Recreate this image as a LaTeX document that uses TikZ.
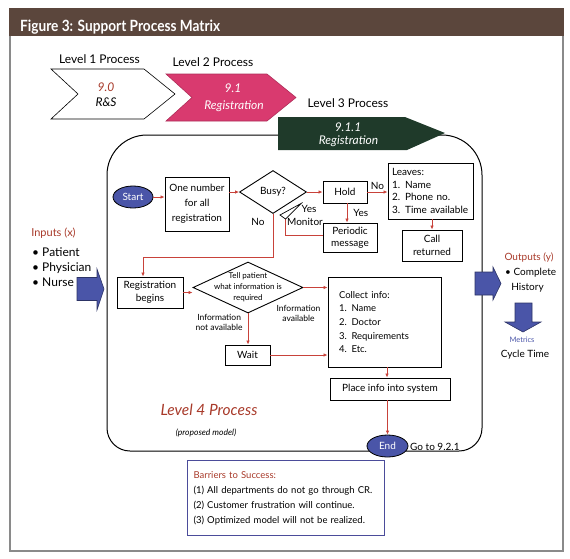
\documentclass[tikz,border=0pt]{standalone}
\usepackage{graphicx}
\usepackage{fontspec}
\setmainfont{Lato}
\usetikzlibrary{shapes.geometric,positioning,calc,arrows.meta}

\definecolor{hdrbrown}{HTML}{5B463C}
\definecolor{lvlpink}{HTML}{D93A6F}
\definecolor{lvlgreen}{HTML}{1F3A2A}
\definecolor{flowblue}{HTML}{4A55A8}
\definecolor{flowred}{HTML}{C8423A}
\definecolor{txtred}{HTML}{A83A2A}
\definecolor{framegray}{HTML}{8A8A8A}
\definecolor{barblue}{HTML}{4B4C9A}

\tikzset{
  box/.style={draw, line width=0.9pt, fill=white, align=center, inner sep=1pt,
    font=\fontsize{10}{14}\selectfont},
  decision/.style={diamond, draw, line width=0.9pt, fill=white, align=center, inner sep=0pt},
  terminal/.style={ellipse, draw=black, line width=0.8pt, fill=flowblue, text=white,
    inner sep=0pt, font=\fontsize{10}{12}\selectfont},
  flow/.style={draw=flowred, line width=0.8pt, -{Latex[length=4pt,width=3.5pt]}},
  lbl/.style={font=\fontsize{10}{12}\selectfont, inner sep=0pt},
  small/.style={font=\fontsize{8.5}{10}\selectfont, inner sep=0pt, align=center},
  lvl/.style={font=\fontsize{12}{14}\selectfont, inner sep=0pt},
  chev/.style={line width=0.6pt},
  bigarrow/.style={fill=flowblue, draw=flowblue!60!black, line width=0.6pt},
}

\begin{document}
\begin{tikzpicture}[x=1pt,y=-1pt]
\useasboundingbox (0,0) rectangle (570,558);

% frame and header
\draw[framegray, line width=2pt] (10,9) rectangle (563,551);
\fill[hdrbrown] (9,8) rectangle (564,36);
\node[anchor=base west, text=white, inner sep=0pt] (title) at (20,31)
  {\resizebox{200pt}{11.5pt}{\bfseries Figure 3: Support Process Matrix}};

% level chevrons
\draw[chev, fill=white] (51,69) -- (144,69) -- (175,94) -- (144,119) -- (51,119) -- (78,94) -- cycle;
\draw[chev, fill=lvlpink, draw=lvlpink!80!black] (166,74) -- (267,74) -- (296,97.5) -- (267,121) -- (166,121) -- (192,97.5) -- cycle;
\node[lvl] (lvl1) at (99.5,59) {Level 1 Process};
\node[lvl] (lvl2) at (213,62.5) {Level 2 Process};
\node[lvl] (lvl3) at (348,103) {Level 3 Process};
\node[lvl, text=txtred] (p90) at (106,87) {\itshape 9.0};
\node[lvl] (prs) at (106,102) {\itshape R\&S};
\node[lvl, text=white] (p91) at (233,88) {\itshape 9.1};
\node[lvl, text=white] (preg) at (234,106) {\itshape Registration};

% level 4 frame
\draw[line width=1pt] (107,175) -- (107,428) arc[start angle=180, end angle=90, radius=23]
  -- (459,451) arc[start angle=90, end angle=0, radius=23]
  -- (482,175) arc[start angle=0, end angle=-90, radius=40]
  -- (147,135) arc[start angle=-90, end angle=-180, radius=40];
\fill[lvlgreen] (278,117) -- (405,117) -- (445,133) -- (407,150) -- (278,150) -- cycle;
\node[lvl, text=white] (p911) at (348,127) {\itshape 9.1.1};
\node[lvl, text=white] (preg3) at (348.5,141) {\itshape Registration};

% flow nodes
\node[terminal, minimum width=40pt, minimum height=22pt] (start) at (133,197) {Start};
\node[box, minimum width=64pt, minimum height=54pt, font=\fontsize{10}{15}\selectfont] (onenum) at (197,204) {One number\\for all\\registration};
\node[decision, minimum width=67pt, minimum height=43pt, font=\fontsize{10}{12}\selectfont] (busy) at (273,192) {Busy?};
\node[box, minimum width=44pt, minimum height=22pt] (hold) at (345,192) {Hold};
\node[box, minimum width=54pt, minimum height=29pt, font=\fontsize{10}{12.5}\selectfont] (periodic) at (350,237.5) {Periodic\\message};
\node[box, minimum width=85pt, minimum height=56pt, text width=77pt, align=left, inner xsep=4pt,
  font=\fontsize{10}{12.4}\selectfont] (leaves) at (430.5,191) {Leaves:\\1. Name\\2. Phone no.\\3. Time available};
\node[box, minimum width=60pt, minimum height=31pt, font=\fontsize{10}{13}\selectfont] (callret) at (432,245.5) {Call\\returned};
\node[box, minimum width=66pt, minimum height=31pt, font=\fontsize{10}{13}\selectfont] (regbeg) at (150,292.5) {Registration\\begins};
\node[decision, minimum width=110pt, minimum height=51pt, aspect=2.2, font=\fontsize{8}{11}\selectfont] (tell) at (248,287.5)
  {\makebox[0pt]{\begin{tabular}{@{}c@{}}Tell patient\\what information is\\required\end{tabular}}};
\node[box, minimum width=113pt, minimum height=90pt, text width=91pt, align=left, inner xsep=11pt,
  font=\fontsize{9.5}{13.7}\selectfont] (collect) at (384.5,322) {Collect info:\\1. Name\\2. Doctor\\3. Requirements\\4. Etc.};
\node[box, minimum width=45pt, minimum height=20pt] (wait) at (247.5,355) {Wait};
\node[box, minimum width=120pt, minimum height=22pt] (place) at (390,389) {Place info into system};
\node[terminal, minimum width=41pt, minimum height=22pt] (endn) at (387.5,446) {End};
\node[lbl, anchor=west] (goto) at (410,447) {Go to 9.2.1};

% connectors
\draw[flow] (start.east |- 0,197) -- (onenum.west |- 0,197);
\draw[flow] (onenum.east |- busy) -- (busy.west);
\draw[flow] (busy) -- (hold);
\draw[flow] (hold.east) -- (hold.east -| leaves.west) node[lbl, midway, above=2pt] {No};
\draw[flow] (hold.south -| 347,0) -- (periodic.north -| 347,0) node[lbl, midway, right=6pt] {Yes};
\coordinate (mon) at (285.5,219);
\draw[draw=flowred, line width=0.8pt] ([yshift=2.5pt]periodic.west) -| (mon);
\draw[line width=0.7pt, fill=white] (280,215) -- (301,203.5) -- (mon) -- cycle;
\node[lbl] (yes1) at (309,209) {Yes};
\node[lbl] (monitor) at (305,221.5) {Monitor};
\node[lbl] (no1) at (258,221.5) {No};
\draw[flow] (busy.south) -- (busy.south |- 0,257) -| ([xshift=-7pt]regbeg.north);
\draw[flow] (leaves.south -| callret) -- (callret.north);
\draw[flow] (regbeg.east) -- (regbeg.east -| tell.west);
\draw[flow] (tell.east) -- (tell.east -| collect.west)
  node[small, at start, below=17pt, xshift=-5pt] {Information\\available};
\draw[flow] (tell.south) -- (tell.south |- wait.north)
  node[small, pos=0.3, left=5pt] {Information\\not available};
\draw[flow] (wait.east) -- (wait.east -| collect.west);
\draw[flow] (collect.south -| 387,0) -- (place.north -| 387,0);
\draw[flow] (place.south -| endn) -- (endn.north);

% level 4 caption
\node[text=txtred, font=\fontsize{15.5}{18}\selectfont\itshape, inner sep=0pt] (lvl4) at (209,410) {Level 4 Process};
\node[font=\fontsize{8.5}{9}\selectfont\itshape, inner sep=0pt] (proposed) at (206,433) {(proposed model)};

% inputs
\node[text=txtred, font=\fontsize{11}{12}\selectfont, inner sep=0pt] (inputs) at (53.5,233) {Inputs (x)};
\node[anchor=north west, align=left, inner sep=0pt, font=\fontsize{12}{15}\selectfont] (inlist) at (32,247)
  {\textbullet\ Patient\\\textbullet\ Physician\\\textbullet\ Nurse};
\draw[bigarrow] (77,277.5) -- (97,277.5) -- (97,269) -- (104,289) -- (97,310) -- (97,300.5) -- (77,300.5) -- cycle;

% outputs
\node[text=txtred, lbl] (outputs) at (529,257) {Outputs (y)};
\node[lbl, anchor=west] (complete) at (505,273) {\textbullet\ Complete};
\node[lbl] (history) at (527.5,288) {History};
\draw[bigarrow] (475,272) -- (493,272) -- (493,267) -- (501,283.5) -- (493,300) -- (493,295) -- (475,295) -- cycle;
\draw[bigarrow] (515,303) -- (532,303) -- (532,322) -- (541,322) -- (523,332) -- (505,322) -- (515,322) -- cycle;
\node[text=flowblue, font=\fontsize{7.5}{9}\selectfont, inner sep=0pt] (metrics) at (522,340) {Metrics};
\node[lbl] (cycle) at (525,355) {Cycle Time};

% barriers
\node[draw=barblue, line width=1pt, anchor=north west, minimum width=195pt, minimum height=75pt,
  text width=185pt, align=left, inner xsep=6pt, font=\fontsize{9.5}{15}\selectfont] (barriers) at (187,460)
  {\textcolor{txtred}{Barriers to Success:}\\(1) All departments do not go through CR.\\(2) Customer frustration will continue.\\(3) Optimized model will not be realized.};
\end{tikzpicture}
\end{document}
